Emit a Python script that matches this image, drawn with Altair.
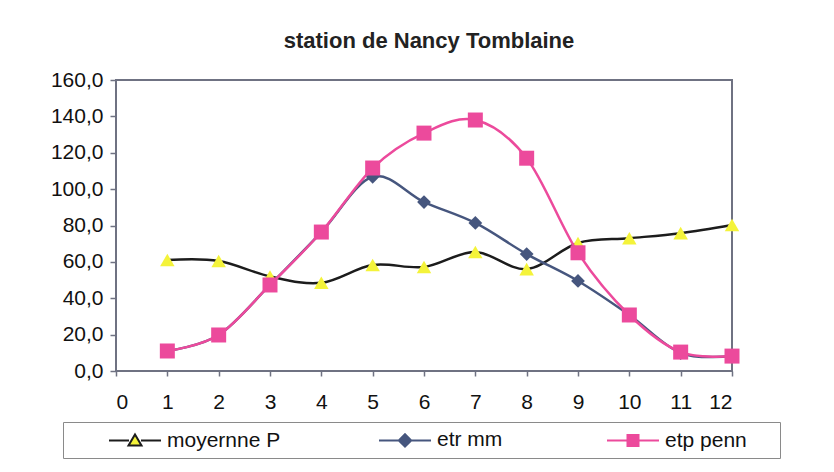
import altair as alt
import pandas as pd

# ---- data ----
months = list(range(1, 13))
moyenne_p = [61.0, 60.5, 52.0, 48.5, 58.3, 57.2, 65.4, 56.0, 70.4, 73.0, 75.8, 80.3]
etr_mm = [11.0, 19.8, 47.3, 76.4, 106.8, 92.9, 81.4, 64.3, 49.5, 30.8, 9.9, 8.2]
etp_penn = [11.0, 19.8, 47.3, 76.4, 111.6, 130.8, 138.0, 117.0, 65.0, 30.8, 10.4, 8.2]

series_names = ["moyernne P", "etr  mm", "etp penn"]
line_colors = ["#1c1c1c", "#46567e", "#ec4a9c"]
marker_colors = ["#f4f33a", "#46567e", "#ec4a9c"]
marker_shapes = ["triangle-up", "diamond", "square"]
marker_sizes = [210, 190, 225]
# legend glyphs: a line with the marker in its middle (last one also reserves room on its right)
legend_paths = [
    "M-2.6,0H-0.6M0.6,0H2.6M0,-0.6L0.65,0.5L-0.65,0.5Z",
    "M-2.6,0H-0.6M0.6,0H2.6M0,-0.62L0.62,0L0,0.62L-0.62,0Z",
    "M-2.6,0H-0.55M0.55,0H2.6M-0.55,-0.55H0.55V0.55H-0.55ZM13.6,0",
]
x_ticks = list(range(0, 13))
y_ticks = list(range(0, 161, 20))

rows = []
for name, vals in zip(series_names, [moyenne_p, etr_mm, etp_penn]):
    for m, v in zip(months, vals):
        rows.append({"mois": m, "valeur": v, "serie": name})
df = pd.DataFrame(rows)

FONT = "Liberation Sans"

x_enc = alt.X(
    "mois:Q",
    scale=alt.Scale(domain=[0, 12], nice=False, zero=False),
    axis=alt.Axis(values=x_ticks, title=None, format="d", tickSize=5,
                  labelPadding=15, domain=False, grid=False),
)
y_enc = alt.Y(
    "valeur:Q",
    scale=alt.Scale(domain=[0, 160], nice=False),
    axis=alt.Axis(values=y_ticks, title=None, tickSize=6, labelPadding=7,
                  domain=False, grid=False,
                  labelExpr="replace(format(datum.value, '.1f'), '.', ',')"),
)

layers = []
for i, name in enumerate(series_names):
    base = alt.Chart(df).transform_filter(alt.datum.serie == name)
    line = base.mark_line(interpolate="cardinal", strokeWidth=2.5,
                          color=line_colors[i]).encode(x=x_enc, y=y_enc)
    pts = base.mark_point(filled=True, opacity=1, shape=marker_shapes[i],
                          size=marker_sizes[i], color=marker_colors[i]).encode(x=x_enc, y=y_enc)
    layers += [line, pts]

leg = alt.Legend(title=None)

legend_layer = (
    alt.Chart(df)
    .transform_filter("datum.valeur < -1")
    .mark_point(filled=True, opacity=1)
    .encode(
        shape=alt.Shape("serie:N", scale=alt.Scale(domain=series_names, range=legend_paths),
                        legend=leg),
        fill=alt.Fill("serie:N", scale=alt.Scale(domain=series_names, range=marker_colors),
                      legend=leg),
        stroke=alt.Stroke("serie:N", scale=alt.Scale(domain=series_names, range=line_colors),
                          legend=leg),
    )
)

chart = (
    alt.layer(*layers, legend_layer)
    .properties(
        width=616,
        height=291,
        title=alt.TitleParams("station de Nancy Tomblaine", dx=5),
        autosize=alt.AutoSizeParams(type="none"),
        padding={"left": 108, "top": 72, "right": 86, "bottom": 90},
    )
    .configure_view(stroke="#6f7282", strokeWidth=2)
    .configure_axis(labelFont=FONT, labelFontSize=21, labelColor="#111111",
                    tickColor="#6f7282", tickWidth=1.5)
    .configure_title(font=FONT, fontSize=22, fontWeight="bold", color="#222222",
                     offset=16, anchor="middle")
    .configure_legend(
        orient="none", legendX=-53, legendY=342, direction="horizontal", columns=3,
        columnPadding=59, symbolSize=400, symbolStrokeWidth=2, symbolOffset=54,
        labelOffset=21, labelFont=FONT, labelFontSize=21, labelColor="#111111",
        strokeColor="#8a8a8a", padding=7, fillColor="white",
    )
)

chart.save("out.html", embed_options={"renderer": "svg", "actions": False})
